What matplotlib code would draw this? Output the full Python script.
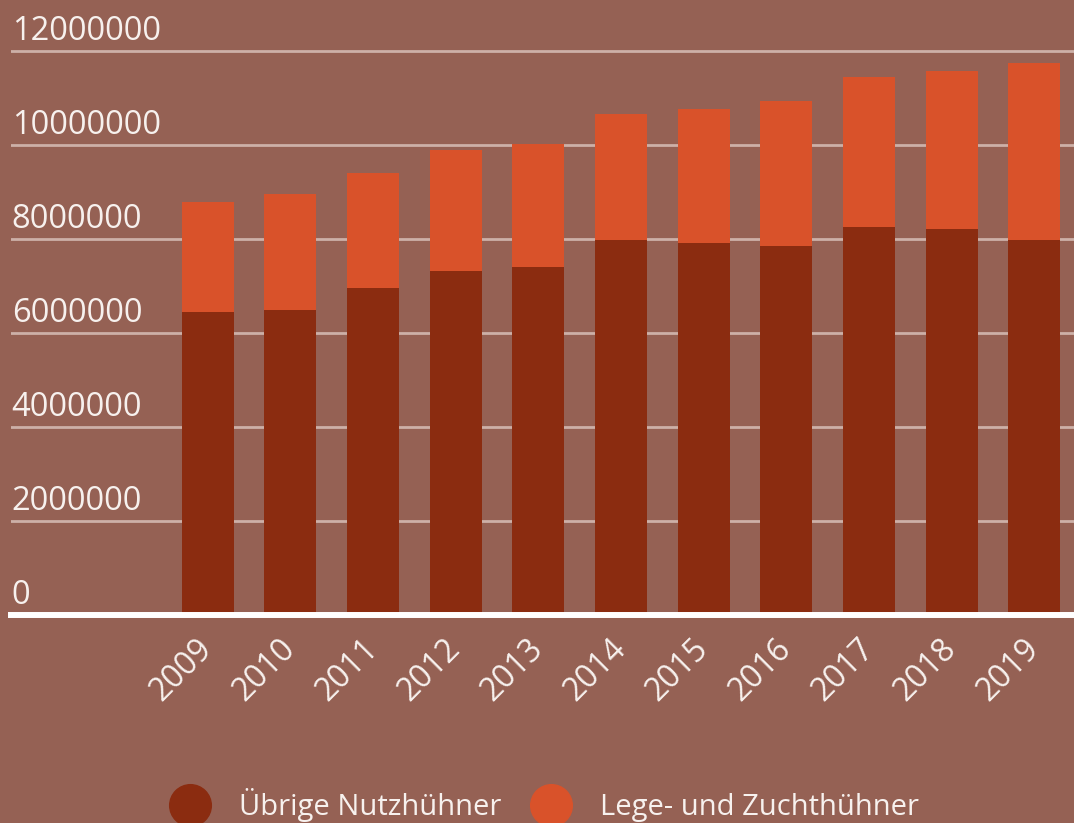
import matplotlib
matplotlib.use("Agg")
import matplotlib.pyplot as plt
from matplotlib.lines import Line2D

# data (values in head of chickens)
years = ["2009", "2010", "2011", "2012", "2013", "2014",
         "2015", "2016", "2017", "2018", "2019"]
uebrige = [6440000, 6500000, 6950000, 7330000, 7400000, 7970000,
           7910000, 7850000, 8250000, 8210000, 7970000]
lege_zucht = [2340000, 2460000, 2450000, 2560000, 2620000, 2690000,
              2860000, 3090000, 3200000, 3370000, 3780000]
yticks = [0, 2000000, 4000000, 6000000, 8000000, 10000000, 12000000]
series_names = ["Übrige Nutzhühner", "Lege- und Zuchthühner"]

bg = "#956154"
dark = "#8B2C10"
orange = "#D9522A"
grid_col = "#CDB0A8"
txt = "#F7F1EE"

plt.rcParams["font.family"] = ["Open Sans", "DejaVu Sans"]

fig = plt.figure(figsize=(10.74, 8.23), dpi=100, facecolor=bg)
ax = fig.add_axes([0.0102, 0.2527, 0.9898, 0.7081])
ax.set_facecolor(bg)

x = list(range(len(years)))
ax.bar(x, uebrige, width=0.63, color=dark, zorder=2)
ax.bar(x, lege_zucht, width=0.63, bottom=uebrige, color=orange, zorder=2)

ax.set_xlim(-2.38, 10.48)
ax.set_ylim(0, 12400000)

# gridlines and y labels sitting above them
ax.set_yticks(yticks)
ax.set_yticklabels([])
ax.tick_params(axis="y", length=0)
for v in yticks:
    if v > 0:
        ax.axhline(v, color=grid_col, lw=2, zorder=1)
    ax.annotate(str(v), xy=(0, v), xycoords=ax.get_yaxis_transform(),
                xytext=(0.5, 8), textcoords="offset points",
                ha="left", va="baseline", fontsize=23.5, color=txt)

ax.set_xticks(x)
ax.set_xticklabels(years)
ax.tick_params(axis="x", length=0, pad=21, labelsize=23, labelcolor=txt)
plt.setp(ax.get_xticklabels(), rotation=45, ha="right", va="center",
         rotation_mode="anchor")

for s in ["top", "right", "left"]:
    ax.spines[s].set_visible(False)
ax.spines["bottom"].set_color("white")
ax.spines["bottom"].set_linewidth(4.3)
ax.spines["bottom"].set_zorder(3)

handles = [Line2D([], [], ls="none", marker="o", markersize=30,
                  markerfacecolor=c, markeredgecolor=c) for c in (dark, orange)]
fig.legend(handles, series_names, loc="center", bbox_to_anchor=(0.5065, 0.022),
           ncol=2, frameon=False, fontsize=21, labelcolor=txt,
           handlelength=1.45, handletextpad=0.95, columnspacing=1.0)

fig.savefig("out.png", dpi=100, facecolor=bg)
